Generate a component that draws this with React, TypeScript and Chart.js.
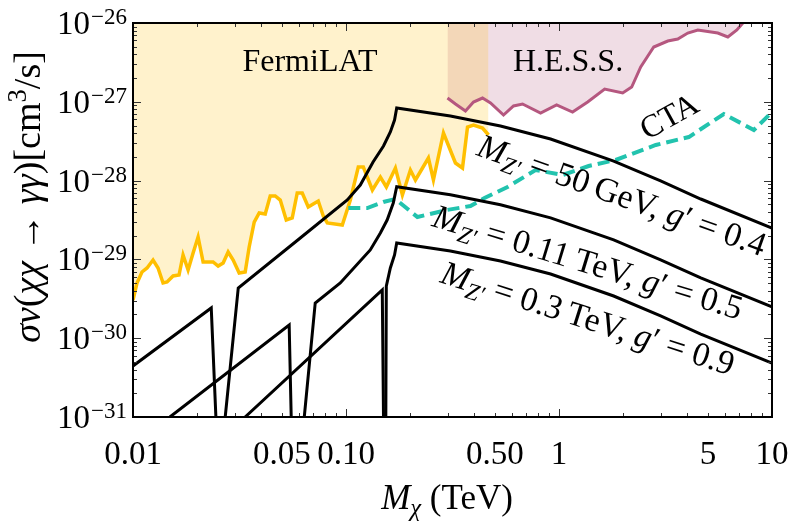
import React, { useEffect, useRef } from 'react';
import { Chart, registerables } from 'chart.js';

Chart.register(...registerables);

const FONT = '"Liberation Serif", "DejaVu Serif", serif';

// ---- axis ticks ----
const xTickValues = [0.01, 0.05, 0.1, 0.5, 1, 5, 10];
const xTickLabels = ['0.01', '0.05', '0.10', '0.50', '1', '5', '10'];
const yTickExponents = [-26, -27, -28, -29, -30, -31];

// ---- FermiLAT limit (TeV, cm^3/s) ----
const fermiMass = [0.0100, 0.01044, 0.01102, 0.01164, 0.01242, 0.01311, 0.01384, 0.01445, 0.01542, 0.01645, 0.01718, 0.01814, 0.01915, 0.02021, 0.02134, 0.02377, 0.02510, 0.02650, 0.02797, 0.02953, 0.03151, 0.03363, 0.03511, 0.03707, 0.03913, 0.04176, 0.04408, 0.04653, 0.04913, 0.05242, 0.05592, 0.05902, 0.06231, 0.06649, 0.07019, 0.07410, 0.07822, 0.08168, 0.09608, 0.1048, 0.1142, 0.1206, 0.1330, 0.1450, 0.1547, 0.1706, 0.1840, 0.2006, 0.2118, 0.2437, 0.2573, 0.2868, 0.3265, 0.3523, 0.3719, 0.3967, 0.4374, 0.4667];
const fermiSigma = [3.05e-30, 5.02e-30, 6.92e-30, 7.78e-30, 9.83e-30, 7.78e-30, 5.02e-30, 5.17e-30, 6.16e-30, 6.34e-30, 1.137e-29, 7.34e-30, 1.206e-29, 1.924e-29, 9.27e-30, 9.27e-30, 8.24e-30, 9.0e-30, 1.241e-29, 9.83e-30, 6.72e-30, 6.92e-30, 1.437e-29, 2.98e-29, 3.88e-29, 3.77e-29, 6.38e-29, 6.38e-29, 5.67e-29, 3.16e-29, 3.35e-29, 6.96e-29, 6.96e-29, 4.62e-29, 5.05e-29, 5.51e-29, 3.56e-29, 2.90e-29, 2.73e-29, 5.67e-29, 1.488e-28, 1.488e-28, 7.60e-29, 1.111e-28, 8.30e-29, 1.445e-28, 6.57e-29, 1.363e-28, 1.018e-28, 1.935e-28, 1.018e-28, 4.02e-28, 1.672e-28, 1.445e-28, 4.79e-28, 5.08e-28, 4.65e-28, 3.79e-28];

// ---- H.E.S.S. limit ----
const hessMass = [0.2995, 0.3265, 0.3638, 0.3967, 0.4374, 0.4769, 0.5489, 0.6117, 0.6745, 0.8193, 0.9743, 1.158, 1.363, 1.638, 1.991, 2.194, 2.419, 2.785, 3.241, 3.611, 4.024, 4.484, 5.567, 6.204, 6.839, 7.298];
const hessSigma = [1.117e-27, 9.38e-28, 7.64e-28, 9.94e-28, 1.117e-27, 9.66e-28, 6.80e-28, 8.85e-28, 9.38e-28, 7.21e-28, 9.11e-28, 7.42e-28, 9.94e-28, 1.453e-27, 1.293e-27, 1.541e-27, 2.764e-27, 4.96e-27, 5.91e-27, 6.26e-27, 7.46e-27, 8.15e-27, 7.46e-27, 6.64e-27, 8.15e-27, 1.0e-26];

// ---- CTA projected sensitivity ----
const ctaMass = [0.1025, 0.1259, 0.1498, 0.1706, 0.2164, 0.2963, 0.3840, 0.4469, 0.5733, 0.7762, 1.040, 1.378, 1.846, 2.846, 4.068, 5.941, 8.218, 10];
const ctaSigma = [4.49e-29, 4.49e-29, 5.35e-29, 5.84e-29, 3.45e-29, 4.23e-29, 4.76e-29, 6.01e-29, 8.30e-29, 1.363e-28, 1.178e-28, 1.532e-28, 1.826e-28, 2.83e-28, 3.57e-28, 7.00e-28, 4.39e-28, 7.42e-28];

// ---- model: M_Z' = 50 GeV, g' = 0.4 ----
const z50LowMass = [0.0100, 0.0233, 0.0245];
const z50LowSigma = [4.44e-31, 2.42e-30, 1.0e-31];
const z50HighMass = [0.0271, 0.0312, 0.0610, 0.1014, 0.1167, 0.134, 0.150, 0.1615, 0.169, 0.173, 0.309, 0.531, 0.913, 1.806, 3.00, 4.63, 10];
const z50HighSigma = [1.0e-31, 4.34e-30, 1.87e-29, 5.67e-29, 8.79e-29, 1.72e-28, 2.75e-28, 4.14e-28, 5.87e-28, 8.34e-28, 6.61e-28, 4.93e-28, 3.37e-28, 1.77e-28, 9.89e-29, 5.84e-29, 2.5e-29];

// ---- model: M_Z' = 0.11 TeV, g' = 0.5 ----
const z110LowMass = [0.0149, 0.0541, 0.0553];
const z110LowSigma = [1.0e-31, 1.47e-30, 1.0e-31];
const z110HighMass = [0.0637, 0.0717, 0.094, 0.130, 0.145, 0.156, 0.1667, 0.173, 0.309, 0.531, 0.913, 1.806, 3.00, 4.63, 10];
const z110HighSigma = [1.0e-31, 2.80e-30, 5.02e-30, 1.32e-29, 2.16e-29, 3.16e-29, 5.2e-29, 8.34e-29, 6.61e-29, 4.93e-29, 3.37e-29, 1.77e-29, 9.89e-30, 5.84e-30, 2.5e-30];

// ---- model: M_Z' = 0.3 TeV, g' = 0.9 ----
const z300LowMass = [0.0336, 0.148, 0.150];
const z300LowSigma = [1.0e-31, 4.09e-30, 1.0e-31];
const z300HighMass = [0.1538, 0.1546, 0.1615, 0.169, 0.173, 0.309, 0.531, 0.913, 1.806, 3.00, 4.63, 10];
const z300HighSigma = [1.0e-31, 4.59e-30, 7.78e-30, 1.14e-29, 1.615e-29, 1.28e-29, 9.54e-30, 6.52e-30, 3.43e-30, 1.915e-30, 1.13e-30, 4.84e-31];

type Seg = { t: string; it?: boolean; sz?: number; dy?: number };

const pts = (xs: number[], ys: number[]) => xs.map((x, i) => ({ x, y: ys[i] }));

const fontOf = (size: number, it?: boolean) => `${it ? 'italic ' : ''}${size}px ${FONT}`;

function richWidth(ctx: CanvasRenderingContext2D, segs: Seg[], base: number) {
  let w = 0;
  for (const s of segs) {
    ctx.font = fontOf(base * (s.sz ?? 1), s.it);
    w += ctx.measureText(s.t).width;
  }
  return w;
}

function drawRich(ctx: CanvasRenderingContext2D, segs: Seg[], cx: number, cy: number, base: number, angleDeg: number) {
  ctx.save();
  ctx.translate(cx, cy);
  ctx.rotate((angleDeg * Math.PI) / 180);
  const w = richWidth(ctx, segs, base);
  let x = -w / 2;
  ctx.textBaseline = 'alphabetic';
  ctx.textAlign = 'left';
  ctx.fillStyle = '#000';
  const by = base * 0.33;
  for (const s of segs) {
    ctx.font = fontOf(base * (s.sz ?? 1), s.it);
    ctx.fillText(s.t, x, by + (s.dy ?? 0));
    x += ctx.measureText(s.t).width;
  }
  ctx.restore();
}

const yTitle: Seg[] = [
  { t: 'σv', it: true }, { t: '(' }, { t: 'χχ', it: true }, { t: ' → ' }, { t: 'γγ', it: true },
  { t: ')[cm' }, { t: '3', sz: 0.7, dy: -14 }, { t: '/s]' },
];
const xTitle: Seg[] = [{ t: 'M', it: true }, { t: 'χ', it: true, sz: 0.7, dy: 7 }, { t: ' (TeV)' }];
const lab50: Seg[] = [{ t: 'M', it: true }, { t: 'Z′', it: true, sz: 0.7, dy: 7 }, { t: ' = 50\u2009GeV, ' }, { t: 'g', it: true }, { t: '′' }, { t: ' = 0.4' }];
const lab110: Seg[] = [{ t: 'M', it: true }, { t: 'Z′', it: true, sz: 0.7, dy: 7 }, { t: ' = 0.11\u2009TeV, ' }, { t: 'g', it: true }, { t: '′' }, { t: ' = 0.5' }];
const lab300: Seg[] = [{ t: 'M', it: true }, { t: 'Z′', it: true, sz: 0.7, dy: 7 }, { t: ' = 0.3\u2009TeV, ' }, { t: 'g', it: true }, { t: '′' }, { t: ' = 0.9' }];

const decor = {
  id: 'decor',
  afterDatasetsDraw(chart: any) {
    const { ctx, chartArea: a } = chart;
    const sx = chart.scales.x;
    const sy = chart.scales.y;
    ctx.save();
    // inward ticks
    ctx.strokeStyle = '#333';
    ctx.lineWidth = 1;
    ctx.beginPath();
    for (let d = -2; d <= 0; d++) {
      for (let k = 1; k <= 10; k++) {
        const v = k * Math.pow(10, d);
        const px = Math.round(sx.getPixelForValue(v)) + 0.5;
        const len = k === 1 || k === 10 ? 8 : 4;
        ctx.moveTo(px, a.bottom); ctx.lineTo(px, a.bottom - len);
        ctx.moveTo(px, a.top); ctx.lineTo(px, a.top + len);
      }
    }
    for (let d = -31; d <= -27; d++) {
      for (let k = 1; k <= 10; k++) {
        const v = k * Math.pow(10, d);
        const py = Math.round(sy.getPixelForValue(v)) + 0.5;
        const len = k === 1 || k === 10 ? 8 : 4;
        ctx.moveTo(a.left, py); ctx.lineTo(a.left + len, py);
        ctx.moveTo(a.right, py); ctx.lineTo(a.right - len, py);
      }
    }
    ctx.stroke();
    // frame
    ctx.strokeStyle = '#000';
    ctx.lineWidth = 2;
    ctx.strokeRect(a.left, a.top, a.right - a.left, a.bottom - a.top);

    // region / curve labels
    drawRich(ctx, [{ t: 'FermiLAT' }], 310, 60, 32, 0);
    drawRich(ctx, [{ t: 'H.E.S.S.' }], 568, 60, 32, 0);
    drawRich(ctx, [{ t: 'CTA' }], 669, 116, 32, -29);
    drawRich(ctx, lab50, 622, 195, 34, 19.6);
    drawRich(ctx, lab110, 588, 262, 34, 17);
    drawRich(ctx, lab300, 588, 318, 34, 17.8);

    // y tick labels 10^n
    ctx.fillStyle = '#000';
    ctx.textBaseline = 'alphabetic';
    ctx.textAlign = 'left';
    for (const e of yTickExponents) {
      const py = sy.getPixelForValue(Math.pow(10, e));
      const sup = '−' + Math.abs(e);
      ctx.font = fontOf(23);
      const sw = ctx.measureText(sup).width;
      ctx.font = fontOf(33);
      const bw = ctx.measureText('10').width;
      const x0 = a.left - 6 - sw - bw - 1;
      ctx.fillText('10', x0, py + 11);
      ctx.font = fontOf(23);
      ctx.fillText(sup, x0 + bw + 1, py + 1);
    }
    // axis titles
    drawRich(ctx, xTitle, 447, 497, 35, 0);
    drawRich(ctx, yTitle, 27, 197, 38, -90);
    ctx.restore();
  },
};

export default function App() {
  const ref = useRef<HTMLCanvasElement>(null);
  useEffect(() => {
    const canvas = ref.current;
    if (!canvas) return;
    const black = (xs: number[], ys: number[]) => ({
      data: pts(xs, ys), borderColor: '#000', borderWidth: 3, pointRadius: 0, fill: false,
    });
    const chart = new Chart(canvas, {
      type: 'line',
      data: {
        datasets: [
          black(z50LowMass, z50LowSigma),
          black(z50HighMass, z50HighSigma),
          black(z110LowMass, z110LowSigma),
          black(z110HighMass, z110HighSigma),
          black(z300LowMass, z300LowSigma),
          black(z300HighMass, z300HighSigma),
          {
            data: pts(ctaMass, ctaSigma), borderColor: '#22C3AE', borderWidth: 4, borderDash: [12, 6],
            pointRadius: 0, fill: false,
          },
          {
            data: pts(fermiMass, fermiSigma), borderColor: '#FFBF00', borderWidth: 3.5,
            backgroundColor: 'rgba(255,191,0,0.2)', fill: 'end', pointRadius: 0,
          },
          {
            data: pts(hessMass, hessSigma), borderColor: '#B5577F', borderWidth: 3,
            backgroundColor: 'rgba(181,87,127,0.2)', fill: 'end', pointRadius: 0,
          },
        ] as any,
      },
      options: {
        animation: false,
        responsive: false,
        devicePixelRatio: 1,
        layout: { padding: { top: 23, right: 17, left: 0, bottom: 0 } },
        plugins: {
          legend: { display: false },
          tooltip: { enabled: false },
          filler: { drawTime: 'beforeDatasetsDraw' },
        } as any,
        scales: {
          x: {
            type: 'logarithmic', min: 0.01, max: 10,
            grid: { display: false }, border: { display: false },
            afterBuildTicks: (s: any) => { s.ticks = xTickValues.map((v) => ({ value: v })); },
            afterFit: (s: any) => { s.height = 110; s.paddingLeft = 0; s.paddingRight = 0; },
            ticks: {
              autoSkip: false, maxRotation: 0, minRotation: 0, padding: 11, color: '#000',
              font: { family: FONT, size: 33 },
              callback: (_v: any, i: number) => xTickLabels[i],
            },
          },
          y: {
            type: 'logarithmic', min: 1e-31, max: 1e-26,
            grid: { display: false }, border: { display: false },
            ticks: { display: false },
            afterFit: (s: any) => { s.width = 133; s.paddingTop = 0; s.paddingBottom = 0; },
          },
        } as any,
      },
      plugins: [decor],
    });
    return () => chart.destroy();
  }, []);
  return (
    <canvas
      ref={ref}
      width={789}
      height={527}
      style={{ position: 'absolute', left: 0, top: 0, width: '789px', height: '527px' }}
    />
  );
}
